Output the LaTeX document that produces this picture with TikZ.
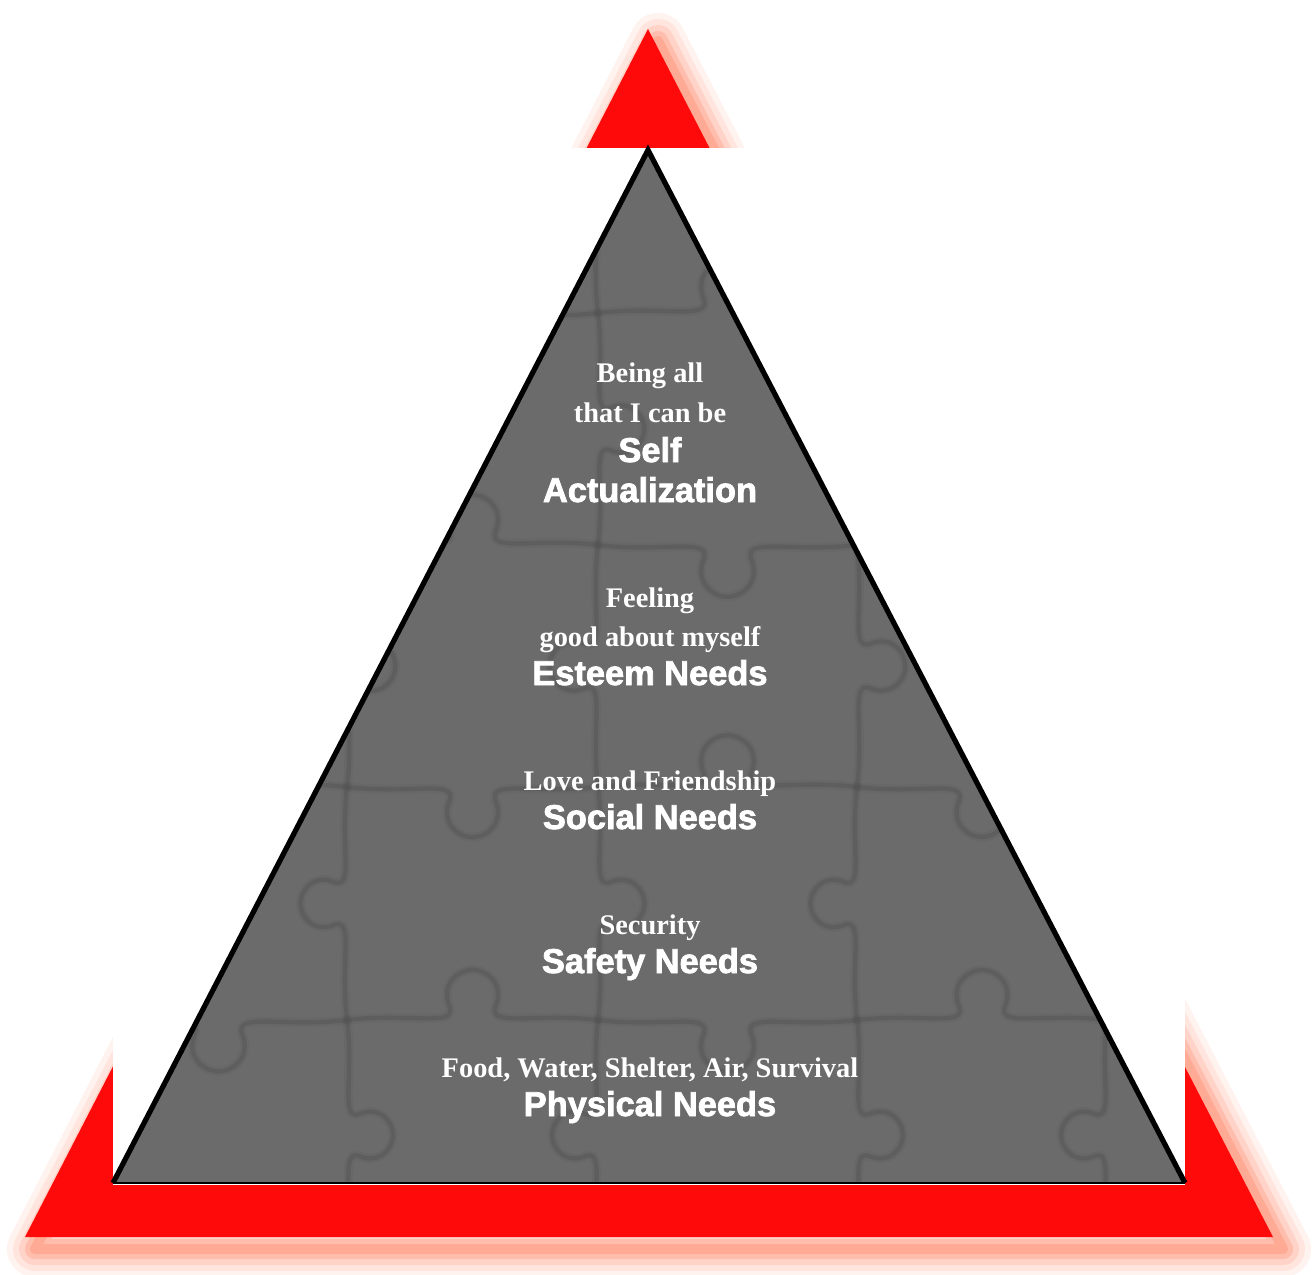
\documentclass[tikz,border=0pt]{standalone}
\usepackage{fontspec}
\setmainfont{Liberation Serif}
\newfontfamily\heavy{Liberation Sans Bold}[FakeBold=2.2]
\definecolor{redc}{HTML}{FF0A0A}
\definecolor{glowc}{HTML}{FF8C6E}
\definecolor{grayc}{HTML}{6B6B6B}
\definecolor{puzc}{HTML}{555555}
\begin{document}
\begin{tikzpicture}[x=0.5pt,y=-0.5pt,
  sub/.style={text=white,font=\bfseries\fontsize{14.2}{16}\selectfont,anchor=base,inner sep=0pt},
  ttl/.style={text=white,font=\heavy\fontsize{17.2}{20}\selectfont,anchor=base,inner sep=0pt},
  puzwide/.style={draw=puzc,line width=4.5pt,opacity=0.18,line cap=round,line join=round},
  puzthin/.style={draw=puzc,line width=2.2pt,opacity=0.45,line cap=round,line join=round},
  hedge/.pic={
    \foreach \st in {puzwide,puzthin}{
    \path[\st] (0,0) .. controls (0.25,0.03) and (0.43,-0.03) .. (0.41,0.05)
      .. controls (0.37,0.14) and (0.44,0.2) .. (0.5,0.2)
      .. controls (0.56,0.2) and (0.63,0.14) .. (0.59,0.05)
      .. controls (0.57,-0.03) and (0.75,0.03) .. (1,0);}},
  vedge/.pic={
    \foreach \st in {puzwide,puzthin}{
    \path[\st] (0,0) .. controls (0.03,0.25) and (-0.03,0.43) .. (0.05,0.41)
      .. controls (0.14,0.37) and (0.2,0.44) .. (0.2,0.5)
      .. controls (0.2,0.56) and (0.14,0.63) .. (0.05,0.59)
      .. controls (-0.03,0.57) and (0.03,0.75) .. (0,1);}}
]
\useasboundingbox (0,0) rectangle (1314,1275);
% glow behind the red triangle
\foreach \w/\o in {56/0.10,44/0.14,32/0.2,20/0.3,10/0.4}{
  \draw[glowc,line width=\w*0.5pt,opacity=\o,line join=round]
    (658,41) -- (35,1249) -- (1283,1249) -- cycle;}
% red triangle
\fill[redc] (648,29) -- (25,1237) -- (1273,1237) -- cycle;
% white panel
\fill[white] (113,148) rectangle (1185,1185);
% gray pyramid
\fill[grayc] (648,150) -- (113,1183) -- (1185,1183) -- cycle;
\begin{scope}
  \clip (648,150) -- (113,1183) -- (1185,1183) -- cycle;
  \foreach \y [count=\j] in {313,545,787,1020}{
    \foreach \xa/\xb [count=\i] in {90/347,347/598,598/857,857/1107,1107/1300}{
      \pgfmathsetmacro\w{\xb-\xa}
      \pgfmathsetmacro\s{(2*mod(\i+\j,2)-1)*\w}
      \pic[shift={(\xa,\y)},xscale=\w,yscale=\s]{hedge};
    }}
  \foreach \x [count=\i] in {347,598,857,1107}{
    \foreach \ya/\yb [count=\j] in {60/313,313/545,545/787,787/1020,1020/1250}{
      \pgfmathsetmacro\h{\yb-\ya}
      \pgfmathsetmacro\s{(2*mod(\i+\j+1,2)-1)*\h}
      \pic[shift={(\x,\ya)},xscale=\s,yscale=\h]{vedge};
    }}
\end{scope}
\draw[line width=2.6pt,line join=miter] (113,1183) -- (648,150) -- (1185,1183);
\draw[line width=1pt] (113,1183) -- (1185,1183);
% texts
\node[sub] (s1a) at (650,382) {Being all};
\node[sub] (s1b) at (650,422) {that I can be};
\node[ttl] (t1a) at (650,462) {Self};
\node[ttl] (t1b) at (650,502) {Actualization};
\node[sub] (s2a) at (650,607) {Feeling};
\node[sub] (s2b) at (650,646) {good about myself};
\node[ttl] (t2) at (650,685) {Esteem Needs};
\node[sub] (s3) at (650,790) {Love and Friendship};
\node[ttl] (t3) at (650,829) {Social Needs};
\node[sub] (s4) at (650,934) {Security};
\node[ttl] (t4) at (650,973) {Safety Needs};
\node[sub] (s5) at (650,1077) {Food, Water, Shelter, Air, Survival};
\node[ttl] (t5) at (650,1116) {Physical Needs};
\end{tikzpicture}
\end{document}
